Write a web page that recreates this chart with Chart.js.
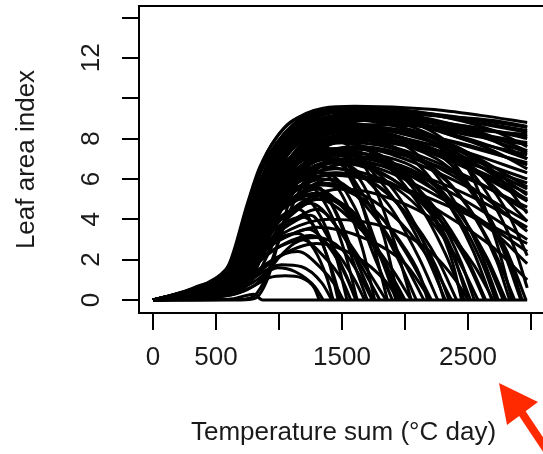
<!DOCTYPE html>
<html>
<head>
<meta charset="utf-8">
<script src="https://cdn.jsdelivr.net/npm/chart.js@4.4.0/dist/chart.umd.min.js"></script>
<style>
  html, body { margin: 0; padding: 0; background: #fff; overflow: hidden; }
  canvas { display: block; }
</style>
</head>
<body>
<canvas id="laiChart" width="548" height="454"></canvas>
<script>
const xTicks = [0, 500, 1000, 1500, 2000, 2500, 3000];
const xTickLabels = ['0', '500', '', '1500', '', '2500', ''];
const yTicks = [0, 2, 4, 6, 8, 10, 12, 14];
const yTickLabels = ['0', '2', '4', '6', '8', '', '12', ''];

// LAI runs as [temperature sum, LAI] knots
// runs that stay high to the end of the season
const curvesHigh = [
  [[0,0],[160,0.25],[294,0.5],[428,0.84],[532,1.24],[611,1.8],[664,2.6],[717,3.8],[770,5.1],[825,6.1],[905,7.3],[984,8.1],[1087,8.8],[1222,9.2],[1500,9.5],[2000,9.35],[2500,9.0],[2970,8.55]],
  [[0,0],[190,0.2],[330,0.44],[470,0.75],[580,1.2],[660,1.85],[720,2.8],[790,4.1],[860,5.4],[950,6.8],[1070,8.0],[1230,8.9],[1550,9.45],[2050,9.3],[2550,8.8],[2970,8.3]],
  [[0,0],[210,0.16],[360,0.4],[500,0.7],[610,1.1],[690,1.75],[750,2.7],[820,4.0],[900,5.4],[990,6.7],[1120,7.9],[1300,8.7],[1700,9.2],[2200,8.9],[2700,7.9],[2970,7.0]],
  [[0,0],[350,0.67],[600,1.73],[750,4.8],[850,6.62],[1100,8.83],[1600,9.6],[2200,9.45],[2600,9.15],[2970,8.8]],
  [[0,0],[370,0.67],[620,1.71],[770,4.75],[870,6.56],[1120,8.74],[1500,9.5],[2000,9.4],[2500,8.9],[2970,8.4]],
  [[0,0],[390,0.66],[640,1.69],[790,4.7],[890,6.49],[1140,8.65],[1650,9.4],[2100,9.0],[2600,8.5],[2970,8.1]],
  [[0,0],[360,0.65],[610,1.67],[760,4.65],[860,6.42],[1110,8.56],[1450,9.3],[1900,9.1],[2400,8.3],[2970,7.7]],
  [[0,0],[410,0.67],[660,1.71],[810,4.75],[910,6.56],[1160,8.74],[1700,9.5],[2200,9.2],[2700,8.4],[2970,7.6]],
  [[0,0],[430,0.64],[680,1.66],[830,4.6],[930,6.35],[1180,8.46],[1600,9.2],[2000,8.9],[2500,7.9],[2970,7.2]],
  [[0,0],[380,0.63],[630,1.62],[780,4.5],[880,6.21],[1130,8.28],[1500,9.0],[2000,8.5],[2500,7.6],[2970,6.8]],
  [[0,0],[450,0.66],[700,1.69],[850,4.7],[950,6.49],[1200,8.65],[1650,9.4],[2100,9.1],[2600,8.3],[2970,7.4]],
  [[0,0],[400,0.64],[650,1.64],[800,4.55],[900,6.28],[1150,8.37],[1550,9.1],[2100,8.9],[2600,8.5],[2970,8.0]],
  [[0,0],[460,0.62],[710,1.6],[860,4.45],[960,6.14],[1210,8.19],[1650,8.9],[2200,8.6],[2970,7.8]],
  [[0,0],[500,0.65],[750,1.67],[900,4.65],[1000,6.42],[1250,8.56],[1750,9.3],[2300,9.1],[2700,8.9],[2970,8.6]],
  [[0,0],[420,0.61],[670,1.57],[820,4.35],[920,6.0],[1170,8.0],[1600,8.7],[2200,8.6],[2600,8.4],[2970,8.2]],
  [[0,0],[550,0.63],[800,1.62],[950,4.5],[1050,6.21],[1300,8.28],[1800,9.0],[2300,8.3],[2700,7.4],[2970,6.5]]
];

// runs that decline but are still green at the end
const curvesMid = [
  [[0,0],[180,0.2],[320,0.45],[460,0.78],[570,1.25],[650,1.9],[710,2.9],[770,4.2],[840,5.6],[930,6.9],[1050,8.0],[1200,8.8],[1500,9.3],[2000,9.0],[2500,8.3],[2970,7.3]],
  [[0,0],[200,0.18],[350,0.42],[480,0.72],[590,1.15],[670,1.8],[730,2.7],[800,4.0],[870,5.3],[960,6.6],[1080,7.8],[1250,8.6],[1600,9.0],[2100,8.3],[2600,6.8],[2970,5.2]],
  [[0,0],[220,0.12],[400,0.3],[560,0.6],[700,1.1],[800,2.0],[880,3.3],[960,4.8],[1060,6.3],[1200,7.6],[1400,8.3],[1800,8.4],[2300,7.6],[2700,6.2],[2970,4.9]],
  [[0,0],[230,0.14],[380,0.36],[520,0.64],[640,1.05],[720,1.7],[790,2.7],[860,4.0],[940,5.3],[1040,6.6],[1180,7.7],[1400,8.4],[1800,8.5],[2300,7.9],[2700,6.4],[2970,4.3]],
  [[0,0],[400,0.62],[650,1.58],[800,4.4],[900,6.07],[1150,8.1],[1500,8.8],[2000,8.2],[2500,7.3],[2970,6.3]],
  [[0,0],[420,0.6],[670,1.53],[820,4.25],[920,5.87],[1170,7.82],[1500,8.5],[1900,8.1],[2400,7.0],[2970,5.8]],
  [[0,0],[360,0.61],[610,1.57],[760,4.35],[860,6.0],[1110,8.0],[1400,8.7],[1900,8.2],[2400,6.9],[2970,5.3]],
  [[0,0],[470,0.57],[720,1.48],[870,4.1],[970,5.66],[1220,7.54],[1600,8.2],[2000,7.7],[2500,6.5],[2970,4.9]],
  [[0,0],[440,0.56],[690,1.44],[840,4.0],[940,5.52],[1190,7.36],[1550,8.0],[2000,7.4],[2500,6.1],[2970,4.4]],
  [[0,0],[390,0.55],[640,1.4],[790,3.9],[890,5.38],[1140,7.18],[1450,7.8],[1900,7.2],[2400,5.9],[2970,3.9]],
  [[0,0],[500,0.56],[750,1.44],[900,4.0],[1000,5.52],[1250,7.36],[1600,8.0],[2000,7.3],[2500,5.7],[2970,3.4]],
  [[0,0],[410,0.53],[660,1.35],[810,3.75],[910,5.18],[1160,6.9],[1450,7.5],[1850,6.9],[2400,5.2],[2970,3.0]],
  [[0,0],[460,0.5],[710,1.3],[860,3.6],[960,4.97],[1210,6.62],[1500,7.2],[1900,6.6],[2400,4.8],[2970,2.4]],
  [[0,0],[380,0.49],[630,1.26],[780,3.5],[880,4.83],[1130,6.44],[1400,7.0],[1800,6.5],[2300,5.0],[2700,3.4],[2970,1.8]],
  [[0,0],[530,0.6],[780,1.55],[930,4.3],[1030,5.93],[1280,7.91],[1700,8.6],[2200,8.1],[2600,7.5],[2970,6.7]],
  [[0,0],[480,0.63],[730,1.62],[880,4.5],[980,6.21],[1230,8.28],[1700,9.0],[2200,8.5],[2600,7.8],[2970,7.0]],
  [[0,0],[370,0.58],[620,1.49],[770,4.15],[870,5.73],[1120,7.64],[1450,8.3],[1900,7.9],[2500,7.0],[2970,6.0]],
  [[0,0],[550,0.53],[800,1.37],[950,3.8],[1050,5.24],[1300,6.99],[1650,7.6],[2100,7.0],[2500,6.0],[2970,4.6]],
  [[0,0],[430,0.46],[680,1.17],[830,3.25],[930,4.49],[1180,5.98],[1450,6.5],[1850,5.9],[2300,4.3],[2700,2.6],[2970,1.0]],
  [[0,0],[360,0.43],[610,1.12],[760,3.1],[860,4.28],[1110,5.7],[1400,6.2],[1900,5.7],[2400,4.5],[2970,2.8]],
  [[0,0],[700,0],[810,0.08],[913,1.1],[1000,3.0],[1100,5.3],[1250,7.2],[1550,8.2],[2000,7.8],[2500,6.6],[2970,5.0]],
  [[0,0],[540,0.48],[790,1.22],[940,3.4],[1040,4.69],[1290,6.26],[1600,6.8],[2100,6.2],[2600,4.9],[2970,3.6]],
  [[0,0],[560,0.56],[810,1.44],[960,4.0],[1060,5.52],[1310,7.36],[1700,8.0],[2200,7.5],[2600,6.6],[2970,5.5]],
  [[0,0],[480,0.59],[730,1.51],[880,4.2],[980,5.8],[1230,7.73],[1600,8.4],[2100,7.8],[2600,6.2],[2970,3.9]],
  [[0,0],[360,0.66],[610,1.69],[760,4.7],[860,6.49],[1110,8.65],[1500,9.4],[2000,8.7],[2500,7.3],[2970,5.6]],
  [[0,0],[340,0.59],[590,1.51],[740,4.2],[840,5.8],[1090,7.73],[1400,8.4],[2000,8.0],[2500,6.8],[2800,4.5],[2970,2.2]],
  [[0,0],[400,0.6],[650,1.55],[800,4.3],[900,5.9],[1150,7.9],[1550,8.5],[2300,7.6],[2650,5.3],[2880,2.4],[2970,0.6]]
];

// runs that senesce completely before the end
const curvesDying = [
  [[0,0],[250,0.15],[420,0.4],[560,0.7],[680,1.2],[760,2.0],[840,3.4],[920,4.8],[1020,6.2],[1150,7.5],[1350,8.5],[1700,9.0],[2200,8.4],[2500,6.5],[2720,3.0],[2850,0]],
  [[0,0],[200,0.1],[380,0.25],[540,0.5],[680,0.95],[780,1.7],[860,2.8],[940,4.0],[1040,5.2],[1200,6.3],[1450,6.8],[1800,6.3],[2100,5.0],[2350,2.8],[2500,0]],
  [[0,0],[240,0.12],[400,0.33],[540,0.6],[660,1.0],[750,1.7],[820,2.7],[900,4.0],[990,5.3],[1120,6.6],[1300,7.4],[1600,7.5],[2000,6.3],[2250,3.9],[2380,1.8],[2450,0]],
  [[0,0],[250,0.08],[450,0.2],[620,0.42],[750,0.8],[850,1.5],[930,2.5],[1020,3.6],[1150,4.6],[1350,5.0],[1600,4.3],[1800,2.2],[1930,0]],
  [[0,0],[300,0.05],[500,0.15],[680,0.35],[800,0.7],[900,1.3],[1000,2.1],[1120,2.8],[1300,3.1],[1500,2.5],[1650,1.1],[1740,0]],
  [[0,0],[400,0.56],[650,1.44],[800,4.0],[900,5.52],[1150,7.36],[1450,8.0],[2260,7.2],[2560,5.2],[2810,2.4],[2960,0]],
  [[0,0],[370,0.53],[620,1.35],[770,3.75],[870,5.18],[1120,6.9],[1400,7.5],[2170,6.75],[2470,4.9],[2720,2.25],[2870,0]],
  [[0,0],[450,0.58],[700,1.49],[850,4.15],[950,5.73],[1200,7.64],[1550,8.3],[2040,7.5],[2340,5.4],[2590,2.5],[2740,0]],
  [[0,0],[420,0.49],[670,1.26],[820,3.5],[920,4.83],[1170,6.44],[1400,7.0],[1940,6.3],[2240,4.55],[2490,2.1],[2640,0]],
  [[0,0],[480,0.55],[730,1.4],[880,3.9],[980,5.38],[1230,7.18],[1500,7.8],[1820,7.0],[2120,5.1],[2370,2.35],[2520,0]],
  [[0,0],[360,0.46],[610,1.19],[760,3.3],[860,4.55],[1110,6.07],[1350,6.6],[1710,5.95],[2010,4.3],[2260,2.0],[2410,0]],
  [[0,0],[500,0.51],[750,1.31],[900,3.65],[1000,5.04],[1250,6.72],[1500,7.3],[1920,4.95],[2170,2.2],[2320,0]],
  [[0,0],[400,0.42],[650,1.08],[800,3.0],[900,4.14],[1150,5.52],[1350,6.0],[1810,4.1],[2060,1.8],[2210,0]],
  [[0,0],[460,0.48],[710,1.22],[860,3.4],[960,4.69],[1210,6.26],[1450,6.8],[1690,5.0],[1940,2.1],[2090,0]],
  [[0,0],[380,0.39],[630,0.99],[780,2.75],[880,3.8],[1130,5.06],[1300,5.5],[1600,3.9],[1850,1.7],[2000,0]],
  [[0,0],[440,0.43],[690,1.12],[840,3.1],[940,4.28],[1190,5.7],[1400,6.2],[1600,4.6],[1760,2.1],[1900,0]],
  [[0,0],[360,0.34],[610,0.86],[760,2.4],[860,3.31],[1110,4.42],[1250,4.8],[1450,3.7],[1660,1.6],[1800,0]],
  [[0,0],[500,0.36],[750,0.94],[900,2.6],[1000,3.59],[1200,4.7],[1350,5.2],[1480,3.9],[1590,1.9],[1700,0]],
  [[0,0],[420,0.29],[670,0.76],[820,2.1],[920,2.9],[1100,3.8],[1250,4.2],[1400,3.0],[1520,1.4],[1620,0]],
  [[0,0],[390,0.6],[640,1.55],[790,4.3],[890,5.93],[1140,7.91],[1500,8.6],[2220,7.8],[2520,5.6],[2770,2.6],[2920,0]],
  [[0,0],[470,0.49],[720,1.26],[870,3.5],[970,4.83],[1220,6.44],[1550,7.0],[2100,6.3],[2400,4.55],[2650,2.1],[2800,0]],
  [[0,0],[410,0.57],[660,1.46],[810,4.05],[910,5.59],[1160,7.45],[1500,8.1],[1990,7.3],[2290,5.3],[2540,2.45],[2690,0]],
  [[0,0],[350,0.44],[600,1.13],[750,3.15],[850,4.35],[1100,5.8],[1300,6.3],[1880,5.7],[2180,4.1],[2430,1.9],[2580,0]],
  [[0,0],[520,0.53],[770,1.37],[920,3.8],[1020,5.24],[1270,6.99],[1600,7.6],[2070,5.1],[2320,2.3],[2470,0]],
  [[0,0],[430,0.41],[680,1.04],[830,2.9],[930,4.0],[1180,5.34],[1350,5.8],[1670,5.2],[1970,3.8],[2220,1.75],[2370,0]],
  [[0,0],[390,0.49],[640,1.26],[790,3.5],[890,4.83],[1140,6.44],[1400,7.0],[1860,4.8],[2110,2.1],[2260,0]],
  [[0,0],[470,0.42],[720,1.08],[870,3.0],[970,4.14],[1220,5.52],[1400,6.0],[1750,4.2],[2000,1.8],[2150,0]],
  [[0,0],[410,0.35],[660,0.9],[810,2.5],[910,3.45],[1160,4.6],[1300,5.0],[1650,3.5],[1900,1.5],[2050,0]],
  [[0,0],[360,0.53],[610,1.37],[760,3.8],[860,5.24],[1110,6.99],[1350,7.6],[1600,5.6],[1800,2.3],[1950,0]],
  [[0,0],[450,0.32],[700,0.81],[850,2.25],[950,3.1],[1150,4.1],[1300,4.5],[1500,3.3],[1710,1.4],[1850,0]],
  [[0,0],[380,0.39],[630,1.0],[780,2.8],[880,3.86],[1130,5.15],[1300,5.6],[1450,4.4],[1610,2.0],[1750,0]],
  [[0,0],[650,0.02],[780,0.12],[880,0.9],[980,2.6],[1100,4.6],[1250,6.2],[1500,6.9],[1900,6.0],[2300,3.8],[2500,1.8],[2630,0]],
  [[0,0],[490,0.39],[740,0.99],[890,2.75],[990,3.8],[1240,5.06],[1500,5.5],[1900,5.0],[2300,3.6],[2550,1.7],[2700,0]],
  [[0,0],[410,0.28],[660,0.72],[810,2.0],[910,2.76],[1160,3.68],[1400,4.0],[1900,3.5],[2200,2.4],[2400,1.0],[2500,0]],
  [[0,0],[370,0.25],[620,0.65],[770,1.8],[870,2.48],[1120,3.31],[1300,3.6],[1700,3.0],[2000,1.8],[2120,0.8],[2200,0]],
  [[0,0],[450,0.2],[700,0.5],[850,1.4],[950,1.93],[1150,2.6],[1300,2.8],[1600,2.2],[1850,0.9],[1950,0]],
  [[0,0],[380,0.51],[630,1.31],[780,3.65],[880,5.04],[1130,6.72],[1400,7.3],[2000,6.8],[2350,5.0],[2630,2.2],[2780,0]],
  [[0,0],[470,0.44],[720,1.13],[870,3.15],[970,4.35],[1220,5.8],[1450,6.3],[1800,5.6],[2050,3.9],[2250,1.6],[2350,0]],
  [[0,0],[350,0.36],[600,0.94],[750,2.6],[850,3.59],[1100,4.78],[1250,5.2],[1550,4.4],[1800,2.3],[1980,0]],
  [[0,0],[430,0.55],[680,1.42],[830,3.95],[930,5.45],[1180,7.27],[1450,7.9],[1700,6.4],[1920,2.8],[2050,0]],
  [[0,0],[520,0.49],[770,1.26],[920,3.5],[1020,4.83],[1270,6.44],[1450,7.0],[1620,5.4],[1760,2.5],[1860,0]],
  [[0,0],[400,0.22],[650,0.58],[800,1.6],[900,2.2],[1100,2.95],[1250,3.2],[1450,2.4],[1600,1.0],[1680,0]],
  [[0,0],[400,0.3],[650,0.9],[800,2.4],[900,3.4],[1050,4.3],[1150,4.5],[1300,3.4],[1400,1.8],[1470,0]],
  [[0,0],[420,0.35],[660,1.0],[810,2.7],[920,3.8],[1080,4.8],[1200,5.0],[1350,3.9],[1460,2.0],[1540,0]],
  [[0,0],[380,0.4],[640,1.1],[790,3.0],[900,4.2],[1080,5.4],[1220,5.7],[1400,4.4],[1530,2.2],[1620,0]],
  [[0,0],[440,0.3],[680,0.9],[830,2.4],[930,3.3],[1100,4.0],[1200,4.1],[1330,3.0],[1430,1.3],[1490,0]],
  [[0,0],[400,0.45],[650,1.2],[800,3.3],[900,4.6],[1120,6.1],[1300,6.4],[1500,5.2],[1660,2.6],[1760,0]],
  [[0,0],[360,0.25],[620,0.75],[780,1.9],[880,2.6],[1050,3.2],[1150,3.3],[1280,2.5],[1380,1.1],[1430,0]],
  [[0,0],[460,0.5],[700,1.3],[850,3.6],[950,5.0],[1180,6.7],[1400,7.0],[1650,5.9],[1830,3.2],[1950,0]],
  [[0,0],[380,0.5],[640,1.35],[790,3.7],[890,5.1],[1140,6.8],[1400,7.2],[1800,6.2],[2050,4.1],[2230,1.6],[2310,0]],
  [[0,0],[430,0.52],[680,1.38],[830,3.8],[930,5.2],[1180,7.0],[1500,7.4],[1950,6.4],[2250,4.3],[2450,1.8],[2550,0]],
  [[0,0],[400,0.5],[660,1.35],[810,3.7],[910,5.1],[1160,6.8],[1450,7.2],[2050,6.3],[2400,4.3],[2620,1.7],[2720,0]],
  [[0,0],[450,0.55],[700,1.45],[850,4.0],[950,5.5],[1200,7.3],[1550,7.8],[2150,6.8],[2500,4.6],[2730,1.9],[2830,0]],
  [[0,0],[420,0.55],[670,1.45],[820,4.0],[920,5.5],[1170,7.3],[1500,7.9],[2250,7.0],[2600,4.7],[2830,1.9],[2930,0]],
  [[0,0],[390,0.42],[640,1.1],[790,3.0],[890,4.1],[1130,5.4],[1330,5.7],[1700,4.8],[1950,3.0],[2120,1.2],[2180,0]],
  [[0,0],[410,0.38],[660,1.0],[810,2.8],[910,3.8],[1140,5.0],[1300,5.3],[1550,4.5],[1780,2.5],[1910,0.8],[1960,0]]
];

// weak runs that never close the canopy
const curvesLow = [
  [[0,0],[420,0.12],[650,0.4],[800,0.9],[990,1.6],[1130,1.4],[1286,0.65],[1350,0]],
  [[0,0],[400,0.08],[650,0.3],[800,0.7],[920,1.1],[1050,1.2],[1180,1.1],[1280,0.6],[1320,0]],
  [[0,0],[420,0.14],[660,0.5],[800,1.1],[1020,1.75],[1180,1.65],[1340,0.85],[1420,0]],
  [[0,0],[400,0.17],[650,0.6],[800,1.3],[900,1.8],[1050,2.3],[1150,2.4],[1330,1.6],[1450,0.7],[1510,0]],
  [[0,0],[380,0.21],[630,0.7],[780,1.6],[880,2.2],[1080,2.85],[1180,3.0],[1350,2.2],[1500,1.0],[1570,0]],
  [[0,0],[420,0.25],[670,0.85],[820,1.9],[920,2.6],[1120,3.3],[1230,3.5],[1400,2.6],[1530,1.2],[1610,0]],
  [[0,0],[600,0.04],[760,0.25],[800,0.28],[870,0],[2970,0]]
];

const fontFamily = '"Liberation Sans", Arial, sans-serif';
const ink = '#1a1a1a';

const frameAndArrow = {
  id: 'frameAndArrow',
  afterDraw(chart) {
    const { ctx, chartArea } = chart;
    ctx.save();
    // top edge of the R box
    ctx.strokeStyle = '#000';
    ctx.lineWidth = 2;
    ctx.beginPath();
    ctx.moveTo(chartArea.left, chartArea.top);
    ctx.lineTo(chartArea.right, chartArea.top);
    ctx.stroke();
    // red annotation arrow in the corner
    ctx.fillStyle = '#ff2a00';
    ctx.strokeStyle = '#ff2a00';
    ctx.lineWidth = 8;
    ctx.beginPath();
    ctx.moveTo(520, 410);
    ctx.lineTo(560, 470);
    ctx.stroke();
    ctx.beginPath();
    ctx.moveTo(499, 383);
    ctx.lineTo(538, 402);
    ctx.lineTo(507, 425);
    ctx.closePath();
    ctx.fill();
    ctx.restore();
  }
};

const noEdgePadding = (s) => {
  s.paddingTop = 0;
  s.paddingBottom = 0;
  s.paddingLeft = 0;
  s.paddingRight = 0;
};

const allCurves = [...curvesHigh, ...curvesMid, ...curvesDying, ...curvesLow];
const datasets = allCurves.map((c) => ({
  data: c,
  borderColor: '#000',
  borderWidth: 3,
  pointRadius: 0,
  fill: false,
  cubicInterpolationMode: 'monotone',
}));

new Chart(document.getElementById('laiChart'), {
  type: 'line',
  data: { datasets },
  options: {
    responsive: false,
    animation: false,
    events: [],
    layout: { padding: { top: 6, right: 0, bottom: 0, left: 0 } },
    plugins: { legend: { display: false }, tooltip: { enabled: false } },
    scales: {
      x: {
        type: 'linear',
        min: -111,
        max: 3135,
        afterBuildTicks: (s) => { s.ticks = xTicks.map((v) => ({ value: v })); },
        afterFit: (s) => { s.height = 141; noEdgePadding(s); },
        ticks: {
          callback: (v, i) => xTickLabels[i],
          autoSkip: false,
          maxRotation: 0,
          padding: 12,
          color: ink,
          font: { family: fontFamily, size: 26 },
        },
        grid: { drawOnChartArea: false, drawTicks: true, tickLength: 17, color: '#000', lineWidth: 2 },
        border: { display: true, color: '#000', width: 2 },
        title: {
          display: true,
          text: 'Temperature sum (°C day)',
          color: ink,
          font: { family: fontFamily, size: 26 },
          padding: { top: 0, bottom: 6 },
        },
      },
      y: {
        type: 'linear',
        min: -0.645,
        max: 14.57,
        afterBuildTicks: (s) => { s.ticks = yTicks.map((v) => ({ value: v })); },
        afterFit: (s) => { s.width = 139; noEdgePadding(s); },
        ticks: {
          callback: (v, i) => yTickLabels[i],
          autoSkip: false,
          minRotation: 90,
          maxRotation: 90,
          crossAlign: 'center',
          padding: 16,
          color: ink,
          font: { family: fontFamily, size: 26 },
        },
        grid: { drawOnChartArea: false, drawTicks: true, tickLength: 17, color: '#000', lineWidth: 2 },
        border: { display: true, color: '#000', width: 2 },
        title: {
          display: true,
          text: 'Leaf area index',
          color: ink,
          font: { family: fontFamily, size: 26 },
          padding: { top: 11, bottom: 0 },
        },
      },
    },
  },
  plugins: [frameAndArrow],
});
</script>
</body>
</html>
